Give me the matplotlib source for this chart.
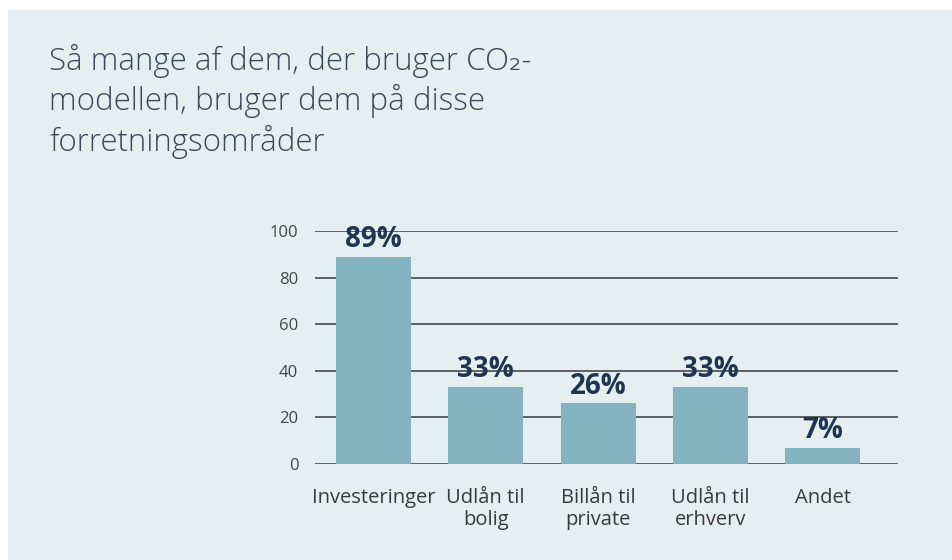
import matplotlib.pyplot as plt
from matplotlib.patches import Rectangle

# Data
categories = ["Investeringer", "Udlån til\nbolig", "Billån til\nprivate", "Udlån til\nerhverv", "Andet"]
values = [89, 33, 26, 33, 7]
yticks = [0, 20, 40, 60, 80, 100]

title = "Så mange af dem, der bruger CO₂-\nmodellen, bruger dem på disse\nforretningsområder"

bg = "#E5EEF1"
bar_color = "#83B3BF"
label_color = "#1F3550"
fam = ["Open Sans", "DejaVu Sans"]

fig = plt.figure(figsize=(9.52, 5.6), dpi=100)
fig.patch.set_facecolor("white")
fig.patches.append(Rectangle((8 / 952, 0), 1, 1 - 10 / 560, transform=fig.transFigure,
                             facecolor=bg, edgecolor="none", zorder=-10))

fig.text(49 / 952, 1 - 44 / 560, title, ha="left", va="top", fontsize=22.5,
         family=fam, weight="light", color="#3A4A5A", linespacing=1.24)

ax = fig.add_axes([315 / 952, 1 - 464 / 560, (898 - 315) / 952, (464 - 231) / 560])
ax.set_facecolor(bg)
ax.patch.set_alpha(0)

x = range(len(categories))
ax.bar(x, values, width=0.667, color=bar_color, zorder=2)
for xi, v in zip(x, values):
    ax.annotate(f"{v}%", (xi, v), xytext=(0, 2), textcoords="offset points",
                ha="center", va="bottom", fontsize=20, weight="bold",
                family=fam, color=label_color, zorder=4)

ax.set_xlim(-0.52, 4.67)
ax.set_ylim(0, 100)
ax.set_yticks(yticks)
ax.set_yticklabels([str(t) for t in yticks], family=fam, fontsize=12, color="#444444")
ax.set_xticks(list(x))
ax.set_xticklabels(categories, family=fam, fontsize=14.5, color="#3A3A3A",
                   linespacing=1.15)
ax.tick_params(axis="y", length=0, pad=12)
ax.tick_params(axis="x", length=0, pad=17)
ax.yaxis.grid(True, color="#3A3A3A", linewidth=1.1, zorder=1)
ax.set_axisbelow(True)
for s in ax.spines.values():
    s.set_visible(False)

fig.savefig("out.png", dpi=100, facecolor=fig.get_facecolor())
